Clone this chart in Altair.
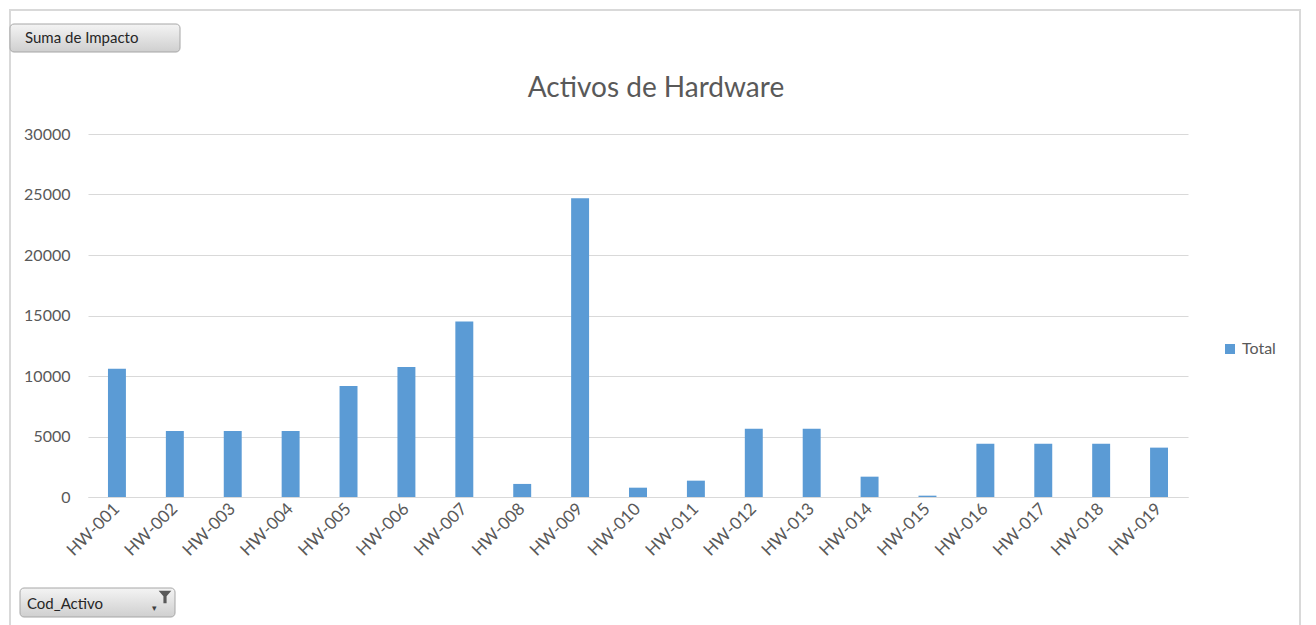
import altair as alt
import pandas as pd

codes = ["HW-001", "HW-002", "HW-003", "HW-004", "HW-005", "HW-006", "HW-007",
         "HW-008", "HW-009", "HW-010", "HW-011", "HW-012", "HW-013", "HW-014",
         "HW-015", "HW-016", "HW-017", "HW-018", "HW-019"]
impact = [10600, 5460, 5460, 5460, 9180, 10750, 14500,
          1080, 24700, 770, 1350, 5650, 5650, 1680,
          110, 4410, 4410, 4410, 4080]
y_ticks = [0, 5000, 10000, 15000, 20000, 25000, 30000]

df = pd.DataFrame({"Cod_Activo": codes, "Impacto": impact, "Serie": ["Total"] * len(codes)})

FONT = "Lato"
GREY = "#595959"
W, H = 1100, 363

bars = alt.Chart(df).mark_bar(color="#5B9BD5").encode(
    x=alt.X("Cod_Activo:N", sort=None, title=None,
            scale=alt.Scale(paddingInner=0.69, paddingOuter=0.345),
            axis=alt.Axis(labelAngle=-45, labelAlign="right", labelBaseline="middle",
                          labelFontSize=17, labelColor=GREY, labelFont=FONT,
                          labelPadding=9, ticks=False, domainColor="#d9d9d9",
                          domainWidth=1)),
    y=alt.Y("Impacto:Q", title=None,
            scale=alt.Scale(domain=[0, 30000], nice=False),
            axis=alt.Axis(values=y_ticks, labelFontSize=16, labelColor=GREY, labelFont=FONT,
                          labelPadding=18, ticks=False, domain=False,
                          gridColor="#d9d9d9", format="d")),
    color=alt.Color("Serie:N", scale=alt.Scale(range=["#5B9BD5"]),
                    legend=alt.Legend(title=None, orient="none", legendX=1134, legendY=207,
                                      symbolType="square", symbolSize=100,
                                      labelFontSize=16, labelColor=GREY, labelFont=FONT,
                                      padding=0, symbolStrokeWidth=0)),
)

one = pd.DataFrame({"k": [0]})
grad = alt.LinearGradient(gradient="linear",
                          stops=[alt.GradientStop(color="#f4f4f4", offset=0),
                                 alt.GradientStop(color="#cfcfcf", offset=1)],
                          x1=0, x2=0, y1=0, y2=1)

frame = alt.Chart(one).mark_rect(fill="transparent", stroke="#d9d9d9", strokeWidth=2).encode(
    x=alt.value(-78), x2=alt.value(1212), y=alt.value(-124), y2=alt.value(520))

title = alt.Chart(one).mark_text(text="Activos de Hardware", align="center", baseline="middle",
                                 fontSize=28, font=FONT, color=GREY).encode(
    x=alt.value(568), y=alt.value(-45))

btn1 = alt.Chart(one).mark_rect(fill=grad, stroke="#a6a6a6", cornerRadius=4).encode(
    x=alt.value(-78), x2=alt.value(92), y=alt.value(-110), y2=alt.value(-82))
btn1_txt = alt.Chart(one).mark_text(text="Suma de Impacto", align="left", baseline="middle",
                                    fontSize=15, font=FONT, color="#262626").encode(
    x=alt.value(-63), y=alt.value(-96))

btn2 = alt.Chart(one).mark_rect(fill=grad, stroke="#a6a6a6", cornerRadius=4).encode(
    x=alt.value(-68), x2=alt.value(87), y=alt.value(454), y2=alt.value(483))
btn2_txt = alt.Chart(one).mark_text(text="Cod_Activo", align="left", baseline="middle",
                                    fontSize=15, font=FONT, color="#262626").encode(
    x=alt.value(-61), y=alt.value(470))
funnel = alt.Chart(one).mark_point(
    shape="M-1,-1 L1,-1 L0.25,-0.1 L0.25,1 L-0.25,1 L-0.25,-0.1 Z",
    filled=True, color="#595959", opacity=1, size=160).encode(
    x=alt.value(77), y=alt.value(463))
arrow = alt.Chart(one).mark_text(text="▾", fontSize=9, color="#404040").encode(
    x=alt.value(66), y=alt.value(474))

chart = alt.layer(frame, bars, title, btn1, btn1_txt, btn2, btn2_txt, funnel, arrow).properties(
    width=W, height=H,
    autosize=alt.AutoSizeParams(type="none"),
    padding={"left": 88, "top": 134, "right": 128, "bottom": 128},
).configure(background="white").configure_view(stroke=None)

chart.save("out.html", embed_options={"renderer": "svg", "actions": False})
